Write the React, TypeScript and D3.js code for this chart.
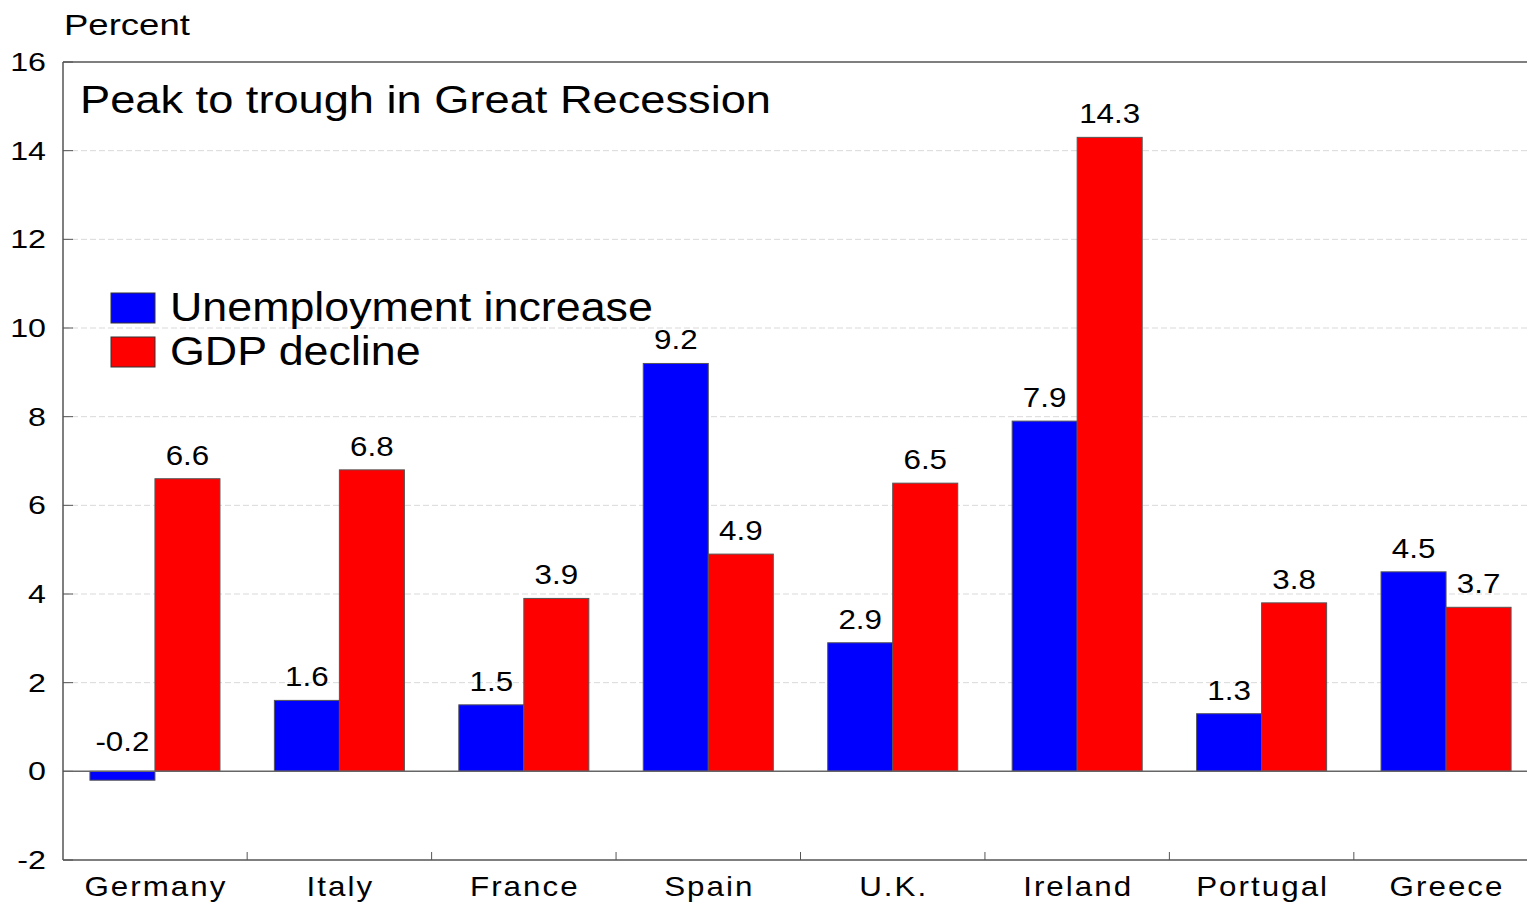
import React from "react";
import * as d3 from "d3";

const categories = ["Germany", "Italy", "France", "Spain", "U.K.", "Ireland", "Portugal", "Greece"];
const unemploymentIncrease = [-0.2, 1.6, 1.5, 9.2, 2.9, 7.9, 1.3, 4.5];
const gdpDecline = [6.6, 6.8, 3.9, 4.9, 6.5, 14.3, 3.8, 3.7];
const yTicks = [-2, 0, 2, 4, 6, 8, 10, 12, 14, 16];
const seriesNames = ["Unemployment increase", "GDP decline"];
const seriesColors = ["#0000ff", "#ff0000"];

const W = 1527, H = 902;
const L = 63, R = 1527, T = 62, B = 860;
const XR = 1538;
const FONT = "'Liberation Sans', Arial, sans-serif";

function Txt({ x, y, size, sx = 1.1, anchor = "start", ls = 0, children }: any) {
  return (
    <text transform={`translate(${x},${y}) scale(${sx},1)`} fontSize={size} textAnchor={anchor} fontFamily={FONT} fill="#000" letterSpacing={ls}>
      {children}
    </text>
  );
}

export default function App() {
  const y = d3.scaleLinear().domain([-2, 16]).range([B, T]);
  const x = d3.scaleBand<string>().domain(categories).range([L, XR]).paddingInner(0.295).paddingOuter(0.146);
  const bw = x.bandwidth() / 2;
  const step = x.step();
  const series = [unemploymentIncrease, gdpDecline];

  return (
    <svg width={W} height={H} style={{ position: "absolute", left: 0, top: 0 }}>
      <rect width={W} height={H} fill="#fff" />
      {yTicks.filter(t => t !== -2 && t !== 0 && t !== 16).map(t => (
        <line key={t} x1={L} x2={R} y1={y(t)} y2={y(t)} stroke="#d9d9d9" strokeWidth={1} strokeDasharray="6,3" />
      ))}
      {yTicks.map(t => (
        <g key={"yt" + t}>
          <line x1={L} x2={L + 10} y1={y(t)} y2={y(t)} stroke="#555" />
          <Txt x={46} y={y(t) + 9} size={26} sx={1.24} anchor="end">{String(t)}</Txt>
        </g>
      ))}
      <Txt x={64} y={35} size={29} sx={1.26}>Percent</Txt>
      <Txt x={80} y={113} size={38} sx={1.19}>Peak to trough in Great Recession</Txt>
      {categories.map((c, i) => (
        <g key={c}>
          {series.map((s, j) => {
            const v = s[i];
            const bx = (x(c) as number) + j * bw;
            const y0 = y(Math.max(0, v));
            const h = Math.abs(y(v) - y(0));
            return (
              <g key={j}>
                <rect x={bx} y={y0} width={bw} height={h} fill={seriesColors[j]} stroke="#555" strokeWidth={1} />
                <Txt x={bx + bw / 2} y={(v >= 0 ? y(v) : y(0)) - (v >= 0 ? 14 : 20)} size={28} sx={1.12} anchor="middle">{v.toFixed(1)}</Txt>
              </g>
            );
          })}
          <Txt x={(x(c) as number) + x.bandwidth() / 2 + 1} y={896} size={28} sx={1.12} ls={1.8} anchor="middle">{c}</Txt>
        </g>
      ))}
      {categories.slice(1).map(c => (
        <line key={"xt" + c} x1={(x(c) as number) - (step - x.bandwidth()) / 2} x2={(x(c) as number) - (step - x.bandwidth()) / 2} y1={B - 8} y2={B} stroke="#555" />
      ))}
      <line x1={L} x2={R} y1={y(0)} y2={y(0)} stroke="#666" strokeWidth={1.5} />
      <line x1={L} x2={R} y1={T} y2={T} stroke="#555" strokeWidth={1.5} />
      <line x1={L} x2={R} y1={B} y2={B} stroke="#555" strokeWidth={1.5} />
      <line x1={L} x2={L} y1={T} y2={B} stroke="#555" strokeWidth={1.5} />
      {seriesNames.map((n, j) => (
        <g key={n}>
          <rect x={111} y={293 + j * 44} width={44} height={30} fill={seriesColors[j]} stroke="#333" strokeWidth={1} />
          <Txt x={170} y={321 + j * 44} size={40} sx={1.12}>{n}</Txt>
        </g>
      ))}
    </svg>
  );
}
